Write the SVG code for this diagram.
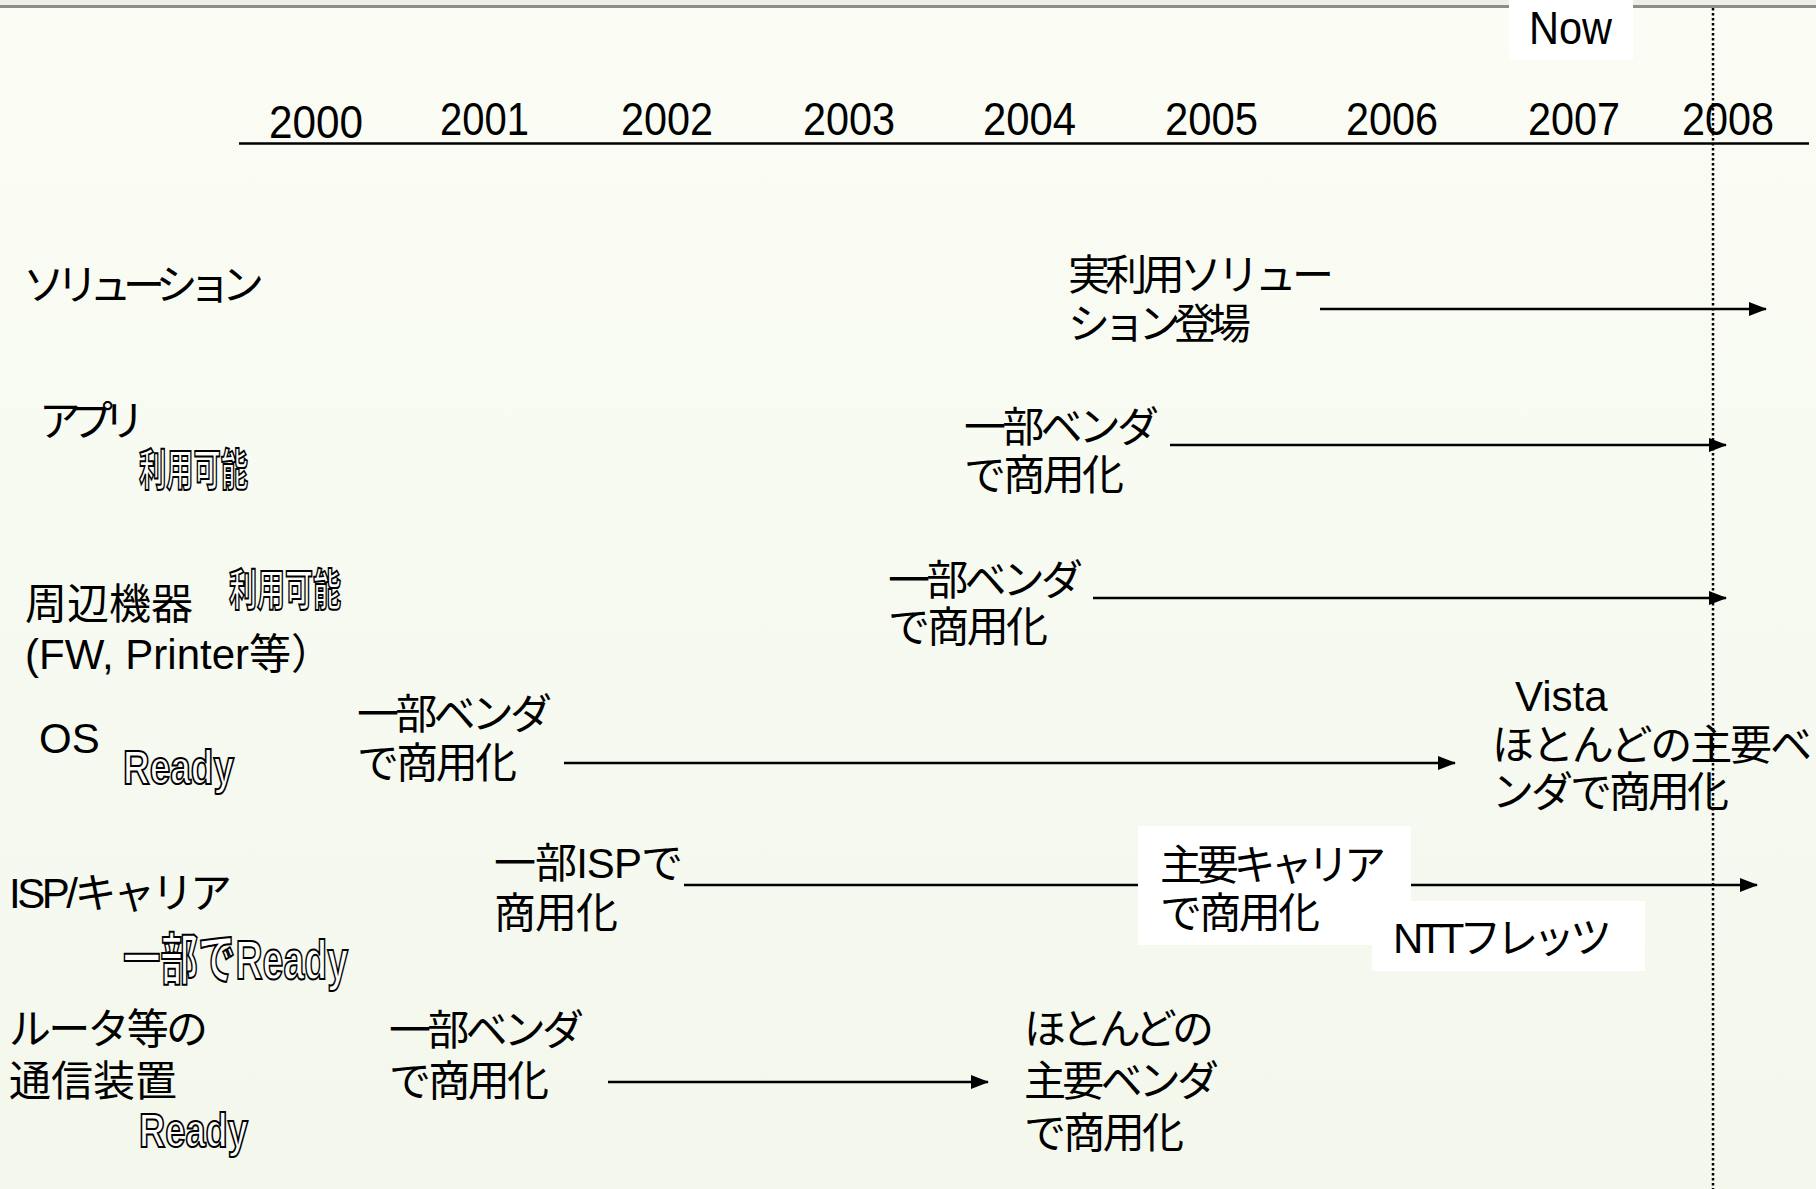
<svg xmlns="http://www.w3.org/2000/svg" width="1816" height="1189" viewBox="0 0 1816 1189">
<defs>
<linearGradient id="bg" x1="0" y1="0" x2="0" y2="1">
<stop offset="0" stop-color="#FBFDF5"/>
<stop offset="1" stop-color="#F3F7EC"/>
</linearGradient>
<marker id="ah" markerUnits="userSpaceOnUse" markerWidth="18" markerHeight="16" viewBox="0 0 18 16" refX="17" refY="8" orient="auto">
<path d="M0,1 L18,8 L0,15 Z" fill="#000"/>
</marker>
<style>
text{font-family:"Liberation Sans","Noto Sans CJK JP",sans-serif;fill:#000;}
.yr{font-size:46px;}
.lb{font-size:42px;}
.md{font-size:42px;}
.ol{font-family:"Liberation Sans","Noto Sans CJK JP",sans-serif;font-weight:bold;fill:#fff;stroke:#000;stroke-width:2px;}
.ar{stroke:#000;stroke-width:2.5;fill:none;marker-end:url(#ah);}
.wb{fill:#fff;}
</style>
</defs>
<rect x="0" y="0" width="1816" height="1189" fill="url(#bg)"/>
<rect x="0" y="0" width="1816" height="5" fill="#EDEEE5"/>
<rect x="0" y="5" width="1816" height="3" fill="#8C8C8C"/>

<g id="connectors">
<line class="ar" x1="1320" y1="309" x2="1766" y2="309"/>
<line class="ar" x1="1170" y1="445" x2="1726" y2="445"/>
<line class="ar" x1="1093" y1="598" x2="1726" y2="598"/>
<line class="ar" x1="564" y1="763" x2="1455" y2="763"/>
<line class="ar" x1="684" y1="885" x2="1757" y2="885"/>
<line class="ar" x1="608" y1="1082" x2="988" y2="1082"/>
</g>

<g id="axis">
<line x1="239" y1="143.5" x2="1809" y2="143.5" stroke="#000" stroke-width="2.5"/>
<text class="yr" x="269" y="138" textLength="94" lengthAdjust="spacingAndGlyphs">2000</text>
<text class="yr" x="440" y="135" textLength="89" lengthAdjust="spacingAndGlyphs">2001</text>
<text class="yr" x="621" y="135" textLength="92" lengthAdjust="spacingAndGlyphs">2002</text>
<text class="yr" x="803" y="135" textLength="92" lengthAdjust="spacingAndGlyphs">2003</text>
<text class="yr" x="983" y="135" textLength="93" lengthAdjust="spacingAndGlyphs">2004</text>
<text class="yr" x="1165" y="135" textLength="93" lengthAdjust="spacingAndGlyphs">2005</text>
<text class="yr" x="1346" y="135" textLength="92" lengthAdjust="spacingAndGlyphs">2006</text>
<text class="yr" x="1528" y="135" textLength="92" lengthAdjust="spacingAndGlyphs">2007</text>
<text class="yr" x="1682" y="135" textLength="92" lengthAdjust="spacingAndGlyphs">2008</text>
</g>

<g id="now">
<rect class="wb" x="1509" y="0" width="124" height="60"/>
<text class="yr" x="1529" y="44" textLength="83" lengthAdjust="spacingAndGlyphs">Now</text>
</g>

<g id="label-solution"><text class="lb" x="23" y="300" textLength="241">ソリューション</text></g>
<g id="label-app"><text class="lb" x="39" y="436" textLength="106">アプリ</text>
<text class="ol" x="139" y="486" font-size="44" textLength="109" lengthAdjust="spacingAndGlyphs">利用可能</text></g>
<g id="label-peripheral"><text class="lb" x="25" y="619">周辺機器</text>
<text class="lb" x="25" y="669">(FW, Printer等）</text>
<text class="ol" x="229" y="606" font-size="44" textLength="112" lengthAdjust="spacingAndGlyphs">利用可能</text></g>
<g id="label-os"><text class="lb" x="39" y="753">OS</text>
<text class="ol" x="123" y="784" font-size="48" textLength="111" lengthAdjust="spacingAndGlyphs">Ready</text></g>
<g id="label-isp"><text class="lb" x="9" y="908" textLength="223">ISP/キャリア</text>
<text class="ol" x="123" y="979" font-size="56" textLength="225" lengthAdjust="spacingAndGlyphs">一部でReady</text></g>
<g id="label-router"><text class="lb" x="9" y="1044" textLength="199">ルータ等の</text>
<text class="lb" x="9" y="1096">通信装置</text>
<text class="ol" x="139" y="1147" font-size="48" textLength="109" lengthAdjust="spacingAndGlyphs">Ready</text></g>

<g id="node-solution"><text class="md" x="1068" y="290" textLength="266">実利用ソリュー</text>
<text class="md" x="1068" y="339" textLength="183">ション登場</text></g>
<g id="node-app"><text class="md" x="964" y="442" textLength="195">一部ベンダ</text>
<text class="md" x="964" y="490" textLength="160">で商用化</text></g>
<g id="node-peripheral"><text class="md" x="888" y="595" textLength="195">一部ベンダ</text>
<text class="md" x="888" y="642" textLength="160">で商用化</text></g>
<g id="node-os-start"><text class="md" x="357" y="729" textLength="195">一部ベンダ</text>
<text class="md" x="357" y="778" textLength="160">で商用化</text></g>
<g id="node-os-end"><text class="md" x="1515" y="711">Vista</text>
<text class="md" x="1492" y="760" textLength="320">ほとんどの主要ベ</text>
<text class="md" x="1492" y="807" textLength="237">ンダで商用化</text></g>
<g id="node-isp-start"><text class="md" x="494" y="878" textLength="189">一部ISPで</text>
<text class="md" x="494" y="928" textLength="124">商用化</text></g>
<g id="node-isp-carrier"><rect class="wb" x="1138" y="826" width="273" height="119"/>
<text class="md" x="1160" y="880" textLength="226">主要キャリア</text>
<text class="md" x="1160" y="928" textLength="160">で商用化</text></g>
<g id="node-isp-ntt"><rect class="wb" x="1372" y="901" width="273" height="70"/>
<text class="md" x="1393" y="953" textLength="219">NTTフレッツ</text></g>
<g id="node-router-start"><text class="md" x="389" y="1045" textLength="195">一部ベンダ</text>
<text class="md" x="389" y="1096" textLength="160">で商用化</text></g>
<g id="node-router-end"><text class="md" x="1024" y="1044" textLength="190">ほとんどの</text>
<text class="md" x="1024" y="1096" textLength="195">主要ベンダ</text>
<text class="md" x="1024" y="1148" textLength="160">で商用化</text></g>

<g id="now-line"><line x1="1713" y1="8" x2="1713" y2="1189" stroke="#000" stroke-width="2.5" stroke-dasharray="2.5 2.5"/></g>
</svg>
